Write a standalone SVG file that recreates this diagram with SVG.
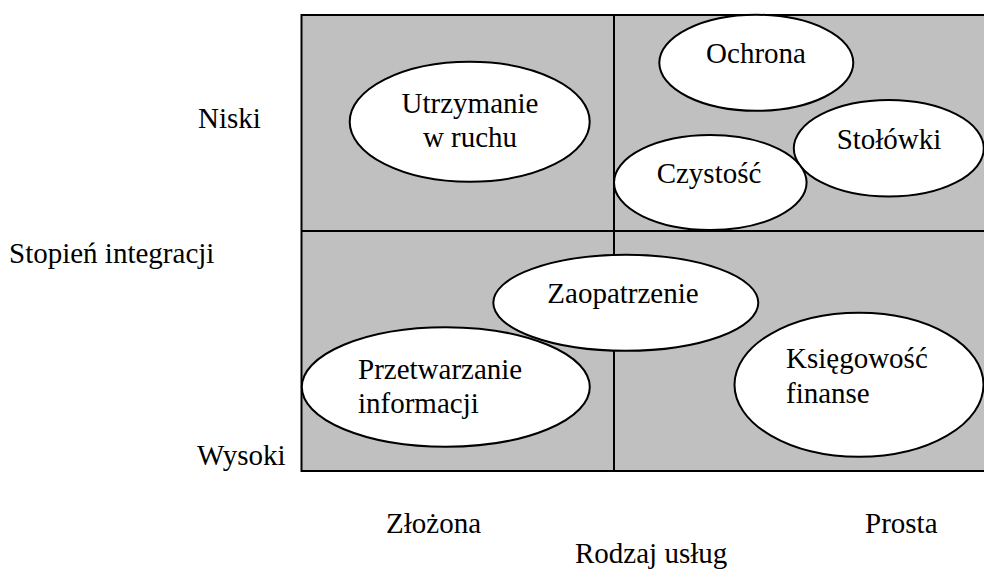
<svg xmlns="http://www.w3.org/2000/svg" width="984" height="573" viewBox="0 0 984 573" font-family="'Liberation Serif', 'Times New Roman', 'DejaVu Serif', serif" font-size="29">
  <style>
    .grid { fill: #c0c0c0; stroke: #000; stroke-width: 2; }
    .div { stroke: #000; stroke-width: 2; fill: none; }
    .node ellipse { fill: #fff; stroke: #000; stroke-width: 2; }
    text { font-family: 'Liberation Serif', 'Times New Roman', 'DejaVu Serif', serif; font-size: 29px; fill: #000; }
    .c { text-anchor: middle; }
  </style>

  <!-- matrix background -->
  <g id="matrix">
    <rect class="grid" x="301.5" y="15" width="700" height="456"/>
    <line class="div" x1="614" y1="15" x2="614" y2="471"/>
    <line class="div" x1="301.5" y1="231" x2="990" y2="231"/>
  </g>

  <!-- axis labels -->
  <g id="axis-y">
    <text x="198" y="128">Niski</text>
    <text x="9" y="263">Stopień integracji</text>
    <text x="197" y="465">Wysoki</text>
  </g>
  <g id="axis-x">
    <text x="386" y="533">Złożona</text>
    <text x="865" y="533">Prosta</text>
    <text x="575" y="563">Rodzaj usług</text>
  </g>

  <!-- service areas -->
  <g id="utrzymanie" class="node">
    <ellipse cx="469.7" cy="121.7" rx="120" ry="60"/>
    <text class="c" x="470" y="113">Utrzymanie</text>
    <text class="c" x="470" y="147">w ruchu</text>
  </g>
  <g id="ochrona" class="node">
    <ellipse cx="756.3" cy="62.8" rx="97" ry="48"/>
    <text class="c" x="756" y="63">Ochrona</text>
  </g>
  <g id="stolowki" class="node">
    <ellipse cx="888.8" cy="148.3" rx="95" ry="48.3"/>
    <text class="c" x="889" y="149">Stołówki</text>
  </g>
  <g id="czystosc" class="node">
    <ellipse cx="710.3" cy="182.5" rx="96.3" ry="47.5"/>
    <text class="c" x="709" y="183">Czystość</text>
  </g>
  <g id="zaopatrzenie" class="node">
    <ellipse cx="625.8" cy="302.8" rx="132.5" ry="48"/>
    <text class="c" x="623" y="303">Zaopatrzenie</text>
  </g>
  <g id="przetwarzanie" class="node">
    <ellipse cx="445.8" cy="387" rx="144" ry="59.7"/>
    <text x="358" y="379">Przetwarzanie</text>
    <text x="358" y="413">informacji</text>
  </g>
  <g id="ksiegowosc" class="node">
    <ellipse cx="859" cy="384.7" rx="124.5" ry="72"/>
    <text x="786" y="368">Księgowość</text>
    <text x="786" y="403">finanse</text>
  </g>
</svg>
